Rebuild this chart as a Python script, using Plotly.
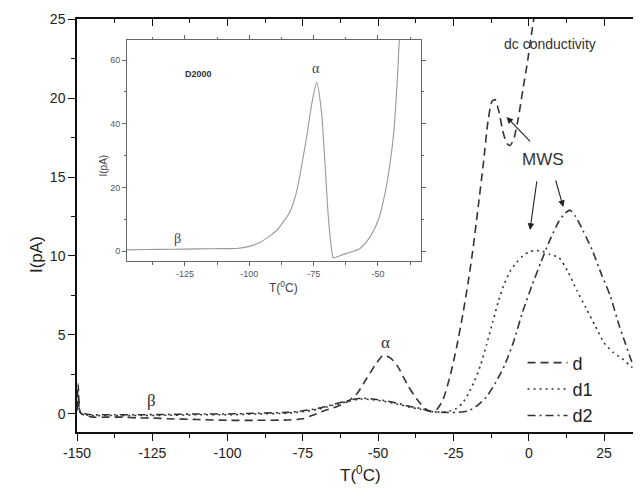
import plotly.graph_objects as go

# ---- main chart data ----
d_T = [-150, -149.6, -149.2, -148.5, -147, -145, -140, -135, -130, -125, -120, -110, -100, -90, -80, -75, -72, -68, -64, -60, -57, -54, -51, -48.5, -46, -43.5, -40, -37, -34.5, -32.5, -30.5, -28.5, -26, -24, -22, -20, -18.5, -17, -15, -13.5, -12.2, -11.2, -10, -8.5, -7.2, -6.2, -5, -3.5, -2, -0.5, 1, 2.5]
d_I = [0.2, 1.9, 0.3, 0.0, -0.1, -0.2, -0.2, -0.2, -0.25, -0.25, -0.3, -0.35, -0.4, -0.4, -0.38, -0.3, -0.1, 0.2, 0.45, 0.8, 1.3, 2.2, 3.1, 3.7, 3.55, 3.0, 1.75, 0.9, 0.35, 0.15, 0.3, 0.9, 2.5, 4.2, 6.2, 8.5, 10.5, 12.8, 16.0, 18.6, 19.8, 19.9, 19.2, 17.8, 17.1, 17.0, 17.4, 18.7, 20.5, 22.2, 24.2, 26.0]

d1_T = [-150, -149.6, -149, -147, -145, -140, -130, -120, -110, -100, -90, -80, -75, -70, -65, -60, -56, -52, -48, -44, -40, -36, -32, -29, -26, -24, -22, -20, -18, -16, -14, -12, -10, -8, -6, -4, -2, 0, 2, 4.5, 7, 10, 13, 16, 19, 22, 25, 28, 31, 34, 37.2]
d1_I = [0.3, 1.5, 0.1, -0.05, -0.1, -0.1, -0.1, -0.08, -0.05, -0.05, 0.0, 0.05, 0.15, 0.3, 0.55, 0.8, 0.95, 0.9, 0.8, 0.65, 0.45, 0.3, 0.15, 0.12, 0.2, 0.35, 0.7, 1.3, 2.1, 3.1, 4.4, 5.8, 7.2, 8.3, 9.1, 9.6, 10.0, 10.25, 10.35, 10.3, 10.1, 9.9, 9.0, 7.8, 6.7, 5.6, 4.5, 3.9, 3.5, 3.0, 2.6]

d2_T = [-150, -149.6, -149, -147, -145, -140, -130, -120, -110, -100, -90, -80, -75, -70, -65, -60, -56, -52, -48, -44, -40, -36, -32, -28, -24, -20, -17, -14, -11, -8, -5, -2, 1, 4, 7, 10, 12, 13.7, 15.5, 18, 21, 24, 27, 30, 32, 34, 36, 37.2]
d2_I = [0.3, 1.2, 0.1, 0.0, -0.05, -0.05, -0.05, -0.03, 0.0, 0.0, 0.05, 0.1, 0.2, 0.35, 0.6, 0.85, 1.0, 0.95, 0.85, 0.7, 0.5, 0.35, 0.15, 0.1, 0.1, 0.2, 0.55, 1.1, 2.0, 3.1, 4.6, 6.5, 8.1, 9.6, 11.0, 12.2, 12.7, 12.9, 12.5, 11.6, 10.4, 8.9, 7.5, 5.6, 4.5, 3.4, 2.6, 2.3]

# ---- inset data (D2000) ----
ins_T = [-147.5, -140, -130, -120, -110, -105, -100, -96, -92, -89, -86.5, -84.2, -82, -80.3, -77.7, -75.7, -73.8, -71.9, -70.6, -69.3, -68, -67.4, -65, -62.2, -57, -53.1, -49.9, -47.3, -45.3, -43.8, -42.5, -41.5]
ins_I = [0.4, 0.5, 0.6, 0.7, 0.8, 0.85, 1.5, 2.7, 4.8, 6.8, 9.5, 12.4, 17.5, 24.0, 36.0, 46.4, 53.0, 43.3, 27.6, 10.8, 0.3, -2.1, -1.5, -0.7, 0.85, 4.5, 9.7, 18.1, 27.6, 38.0, 53.8, 70.0]

# ---- tick labels ----
main_xticks = [-150, -125, -100, -75, -50, -25, 0, 25]
main_xlabels = ["-150", "-125", "-100", "-75", "-50", "-25", "0", "25"]
main_yticks = [0, 5, 10, 15, 20, 25]
main_ylabels = ["0", "5", "10", "15", "20", "25"]
ins_xticks = [-125, -100, -75, -50]
ins_xlabels = ["-125", "-100", "-75", "-50"]
ins_yticks = [0, 20, 40, 60]
ins_ylabels = ["0", "20", "40", "60"]

FONT = "Liberation Sans, Arial, sans-serif"
SERIF = "Liberation Serif, Times New Roman, serif"
LC = "#333333"

fig = go.Figure()
fig.add_trace(go.Scatter(x=d_T, y=d_I, mode="lines", name="d",
                         line=dict(color=LC, width=1.6, dash="8px,5px", shape="spline", smoothing=0.6)))
fig.add_trace(go.Scatter(x=d1_T, y=d1_I, mode="lines", name="d1",
                         line=dict(color=LC, width=1.6, dash="2px,4px", shape="spline", smoothing=0.6)))
fig.add_trace(go.Scatter(x=d2_T, y=d2_I, mode="lines", name="d2",
                         line=dict(color=LC, width=1.6, dash="8px,4px,2px,4px", shape="spline", smoothing=0.6)))
# invisible trace for mirrored top/right axes
fig.add_trace(go.Scatter(x=[-150], y=[0], xaxis="x3", yaxis="y3", mode="markers",
                         marker=dict(opacity=0), showlegend=False, hoverinfo="skip"))
# inset curve
fig.add_trace(go.Scatter(x=ins_T, y=ins_I, xaxis="x2", yaxis="y2", mode="lines",
                         line=dict(color="#999999", width=1.1, shape="spline", smoothing=0.6),
                         showlegend=False))

xr = [-150, 37.25]
yr = [-1.14, 25]
common = dict(showgrid=False, zeroline=False, showline=True, linecolor="#111", linewidth=1.5,
              automargin=False)
fig.update_layout(
    width=633, height=492,
    margin=dict(l=69, r=0, t=11, b=68, autoexpand=False),
    paper_bgcolor="white", plot_bgcolor="white",
    font=dict(family=FONT, color="#222"),
    xaxis=dict(range=xr, tickvals=main_xticks, ticktext=main_xlabels, ticks="outside", ticklen=7,
               tickwidth=1.2, tickcolor="#111",
               minor=dict(dtick=12.5, tick0=-150, ticks="outside", ticklen=4, tickcolor="#111"),
               tickfont=dict(size=14, family=FONT), **common),
    yaxis=dict(range=yr, tickvals=main_yticks, ticktext=main_ylabels, ticks="outside", ticklen=7,
               tickwidth=1.2, tickcolor="#111",
               minor=dict(dtick=2.5, tick0=0, ticks="outside", ticklen=4, tickcolor="#111"),
               tickfont=dict(size=14, family=FONT), **common),
    xaxis3=dict(range=xr, overlaying="x", side="top", anchor="y3", tickvals=main_xticks, ticks="inside",
                ticklen=7, tickwidth=1.2, tickcolor="#111", showticklabels=False,
                minor=dict(dtick=12.5, tick0=-150, ticks="inside", ticklen=4, tickcolor="#111"), **common),
    yaxis3=dict(range=yr, overlaying="y", side="right", anchor="x3", tickvals=main_yticks, ticks="inside",
                ticklen=7, tickwidth=1.2, tickcolor="#111", showticklabels=False,
                minor=dict(dtick=2.5, tick0=0, ticks="inside", ticklen=4, tickcolor="#111"), **common),
    xaxis2=dict(domain=[0.0887, 0.6099], anchor="y2", range=[-147.5, -33.3], tickvals=ins_xticks,
                ticktext=ins_xlabels, ticks="outside", ticklen=4, tickcolor="#666", mirror="allticks",
                minor=dict(dtick=12.5, tick0=-150, ticks="outside", ticklen=2.5, tickcolor="#666"),
                tickfont=dict(size=9, family=FONT, color="#555"), automargin=False,
                showgrid=False, zeroline=False, showline=True, linecolor="#666", linewidth=1),
    yaxis2=dict(domain=[0.414, 0.949], anchor="x2", range=[-3.1, 66.3], tickvals=ins_yticks,
                ticktext=ins_ylabels, ticks="outside", ticklen=4, tickcolor="#666", mirror="allticks",
                minor=dict(dtick=10, tick0=0, ticks="outside", ticklen=2.5, tickcolor="#666"),
                tickfont=dict(size=9, family=FONT, color="#555"), automargin=False,
                showgrid=False, zeroline=False, showline=True, linecolor="#666", linewidth=1),
    legend=dict(x=0.79, y=0.212, xanchor="left", yanchor="top", bgcolor="rgba(0,0,0,0)",
                font=dict(size=18, family=FONT, color="#222"), tracegroupgap=0, itemwidth=40),
    showlegend=True,
)

ann = []
# axis titles
ann.append(dict(text="I(pA)", xref="paper", yref="paper", x=-0.092, y=0.43, showarrow=False,
                textangle=-90, font=dict(size=17, family=FONT, color="#222")))
ann.append(dict(text="T(<sup>0</sup>C)", xref="paper", yref="paper", x=0.502, y=-0.133, showarrow=False,
                font=dict(size=17, family=FONT, color="#222")))
# main labels
ann.append(dict(text="dc conductivity", x=7.0, y=23.4, xref="x", yref="y", showarrow=False,
                font=dict(size=14, family=FONT, color="#333")))
ann.append(dict(text="MWS", x=4.7, y=16.1, xref="x", yref="y", showarrow=False,
                font=dict(size=17, family=FONT, color="#333")))
ann.append(dict(text="α", x=-47.7, y=4.5, xref="x", yref="y", showarrow=False,
                font=dict(size=17, family=SERIF, color="#333")))
ann.append(dict(text="β", x=-125.2, y=0.85, xref="x", yref="y", showarrow=False,
                font=dict(size=17, family=SERIF, color="#333")))
# arrows
for hx, hy, axp, ayp in [(-7.4, 18.8, 25, 26), (0.4, 11.65, 7, -50), (11.45, 13.1, -8, -28)]:
    ann.append(dict(text="", x=hx, y=hy, xref="x", yref="y", ax=axp, ay=ayp, showarrow=True,
                    arrowhead=2, arrowsize=1.2, arrowwidth=1.1, arrowcolor="#222"))
# inset labels
ann.append(dict(text="<b>D2000</b>", x=-119.9, y=55.7, xref="x2", yref="y2", showarrow=False,
                font=dict(size=9, family=FONT, color="#333")))
ann.append(dict(text="α", x=-74.1, y=57.5, xref="x2", yref="y2", showarrow=False,
                font=dict(size=14, family=SERIF, color="#444")))
ann.append(dict(text="β", x=-127.7, y=4.0, xref="x2", yref="y2", showarrow=False,
                font=dict(size=14, family=SERIF, color="#444")))
ann.append(dict(text="I(pA)", xref="paper", yref="paper", x=(95 - 77) / 564, y=(432 - 153) / 413,
                showarrow=False, textangle=-90, font=dict(size=10, family=FONT, color="#444")))
ann.append(dict(text="T(<sup>0</sup>C)", xref="paper", yref="paper", x=(283 - 77) / 564, y=(432 - 287) / 413,
                showarrow=False, font=dict(size=12, family=FONT, color="#444")))
fig.update_layout(annotations=ann)

fig.write_html("out.html")
